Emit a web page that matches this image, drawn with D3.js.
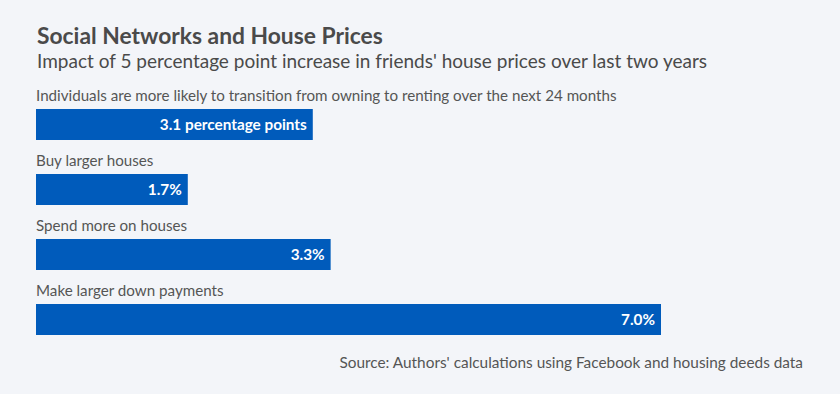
<!DOCTYPE html>
<html>
<head>
<meta charset="utf-8">
<script src="https://cdn.jsdelivr.net/npm/d3@7"></script>
<style>
  html, body { margin: 0; padding: 0; background: #f3f5f9; }
  svg { display: block; font-family: "Lato", "Noto Sans", sans-serif; }
</style>
</head>
<body>
<svg id="chart" width="840" height="394"></svg>
<script>
// data
const categories = [
  "Individuals are more likely to transition from owning to renting over the next 24 months",
  "Buy larger houses",
  "Spend more on houses",
  "Make larger down payments"
];
const values = [3.1, 1.7, 3.3, 7.0];
const valueLabels = ["3.1 percentage points", "1.7%", "3.3%", "7.0%"];

const title = "Social Networks and House Prices";
const subtitle = "Impact of 5 percentage point increase in friends' house prices over last two years";
const source = "Source: Authors' calculations using Facebook and housing deeds data";

const width = 840, height = 394;
const svg = d3.select("#chart");

svg.append("rect").attr("width", width).attr("height", height).attr("fill", "#f3f5f9");

// shrink/grow a text so it takes the width it has in the original
function fit(sel, target) {
  const w = sel.node().getComputedTextLength();
  const fs = parseFloat(sel.attr("font-size"));
  sel.attr("font-size", (fs * target / w).toFixed(2));
}

const t = svg.append("text").attr("x", 37).attr("y", 44)
  .attr("font-size", 23).attr("font-weight", 700).attr("fill", "#4a4a4a").text(title);
fit(t, 346);

const st = svg.append("text").attr("x", 37).attr("y", 68)
  .attr("font-size", 20).attr("fill", "#4a4a4a").text(subtitle);
fit(st, 670);

const x = d3.scaleLinear().domain([0, 7]).range([36, 661]);
const y = d3.scaleBand().domain(d3.range(categories.length)).range([84, 344]).paddingInner(0);
const barH = 31;

const g = svg.selectAll("g.row").data(categories).join("g").attr("class", "row")
  .attr("transform", (d, i) => `translate(0,${y(i)})`);

const labels = g.append("text").attr("x", 36).attr("y", 17)
  .attr("font-size", 15).attr("fill", "#555555").text(d => d);
// size category labels from the first (longest) one
const w0 = labels.node().getComputedTextLength();
labels.attr("font-size", (15 * 581 / w0).toFixed(2));

g.append("rect")
  .attr("x", x(0)).attr("y", 25)
  .attr("width", (d, i) => x(values[i]) - x(0))
  .attr("height", barH)
  .attr("fill", "#005bbb");

const vals = g.append("text")
  .attr("x", (d, i) => x(values[i]) - 6)
  .attr("y", 25 + barH / 2)
  .attr("dy", "0.35em")
  .attr("text-anchor", "end")
  .attr("font-size", 15).attr("font-weight", 700).attr("fill", "#ffffff")
  .text((d, i) => valueLabels[i]);
const vw = vals.node().getComputedTextLength();
vals.attr("font-size", (15 * 147 / vw).toFixed(2));

const src = svg.append("text").attr("x", 803).attr("y", 368)
  .attr("text-anchor", "end")
  .attr("font-size", 16).attr("fill", "#555555").text(source);
fit(src, 464);
</script>
</body>
</html>
